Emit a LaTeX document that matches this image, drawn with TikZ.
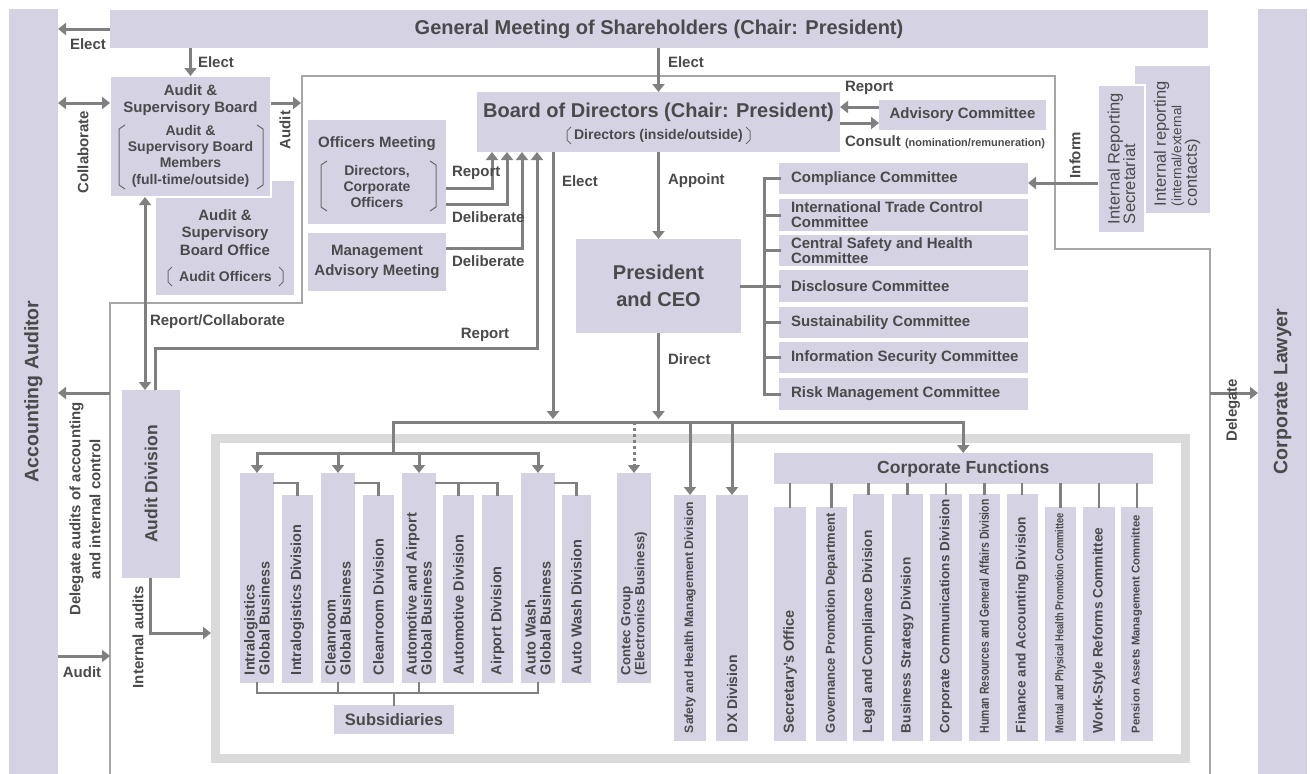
\documentclass[tikz,border=0pt]{standalone}
\usepackage{fontspec}
\setmainfont{Liberation Sans}
\usetikzlibrary{arrows.meta}
\definecolor{boxc}{HTML}{D5D2E4}
\definecolor{txt}{HTML}{4A4A4A}
\definecolor{arr}{HTML}{808080}
\definecolor{frm}{HTML}{A6A6A6}
\definecolor{bigf}{HTML}{DADADA}
\newcommand{\fs}[2]{\fontsize{#1}{#2}\selectfont\bfseries}
\newcommand{\fr}[2]{\fontsize{#1}{#2}\selectfont\mdseries}
\newcommand{\bx}[7][]{\node[bx,minimum width={(#5-#3)*1pt},minimum height={(#6-#4)*1pt},#1] (#2) at ({(#3+#5)/2},{(#4+#6)/2}) {#7};}
\newcommand{\vt}[5][]{\node[lb,rotate=90,anchor=west,align=left,font=\fs{#3}{#4},#1] (#2-t) at ([yshift=8pt]#2.south) {#5};}
\newcommand{\brk}[4]{\draw[brk] ({#1+#4},#2) -- (#1,{#2+4}) -- (#1,{#3-4}) -- ({#1+#4},#3);}
\tikzset{
 bx/.style={fill=boxc,inner sep=0pt,outer sep=0pt,text=txt,align=center,font=\fs{15}{17}},
 wb/.style={draw=white,line width=1.5pt},
 lb/.style={text=txt,inner sep=0pt,outer sep=0pt,font=\fs{15}{17}},
 ar/.style={draw=arr,line width=3pt,-{Triangle[width=12pt,length=8pt]}},
 ar2/.style={draw=arr,line width=3pt,{Triangle[width=12pt,length=8pt]}-{Triangle[width=12pt,length=8pt]}},
 ln/.style={draw=arr,line width=3pt,line cap=rect},
 ln2/.style={draw=arr,line width=2.5pt,line cap=rect},
 brk/.style={draw=txt!80,line width=1pt},
}
\begin{document}
\begin{tikzpicture}[x=1pt,y=-1pt]
\useasboundingbox (0,0) rectangle (1310,774);
% frames
\draw[frm,line width=1.2pt] (110,774) -- (110,303) -- (302,303) -- (302,76) -- (1055,76) -- (1055,249) -- (1210,249) -- (1210,774);
\draw[bigf,line width=9pt] (215.5,438) rectangle (1185,758.5);
% side bars
\bx{aa}{9}{9}{58}{774}{}
\node[lb,rotate=90,font=\fs{19.5}{20}] (aat) at (aa.center) {Accounting Auditor};
\bx{cl}{1258}{9}{1307}{774}{}
\node[lb,rotate=90,font=\fs{19.5}{20}] (clt) at (cl.center) {Corporate Lawyer};
\bx[font=\fs{20}{20}]{gm}{110}{10}{1208}{48}{General Meeting of Shareholders (Chair: President)}
% audit boards
\bx{abo}{156}{181}{294}{295}{}
\bx[wb]{ab}{110}{76}{271}{197}{}
\node[lb,align=center,font=\fs{15}{17}] (abt) at (190.5,100.5) {Audit \&\\Supervisory Board};
\node[lb,align=center,font=\fs{14}{16.3}] (abm) at (190.5,156) {Audit \&\\Supervisory Board\\Members\\(full-time/outside)};
\brk{119}{125}{189}{6}
\brk{263}{125}{189}{-6}
\node[lb,align=center,font=\fs{15}{17.5}] (abot) at (225,232.5) {Audit \&\\Supervisory\\Board Office};
\node[lb,font=\fs{14}{16}] (aboo) at (225.5,276) {Audit Officers};
\brk{168}{267}{286}{4}
\brk{283}{267}{286}{-4}
% arrows around audit board
\draw[ar] (gm.west) -- (gm.west -| aa.east);
\node[lb] (le1) at (88,44) {Elect};
\draw[ar] (gm.south -| ab.north) -- (ab.north);
\node[lb,anchor=west] (le2) at (198,62) {Elect};
\coordinate (abc) at (110,103);
\draw[ar2] (abc -| aa.east) -- (abc);
\node[lb,rotate=90] (lcol) at (83,152) {Collaborate};
\coordinate (aud) at (301,103);
\draw[ar] (abc -| ab.east) -- (aud);
\node[lb,rotate=90] (laud) at (285,130) {Audit};
% audit division
\bx{ad}{122}{390}{180}{578}{}
\node[lb,rotate=90,font=\fs{17.5}{18}] (adt) at (ad.center) {Audit Division};
\coordinate (rc) at (145,300);
\draw[ar2] (ab.south -| rc) -- (ad.north -| rc);
\node[lb,anchor=west] (lrc) at (150,322) {Report/Collaborate};
\coordinate (rp1) at (155,348);
\coordinate (rp2) at (537,348);
% board of directors
\bx{bod}{477}{92}{840}{152}{}
\node[lb,font=\fs{20}{20}] (bodt) at (658.5,112) {Board of Directors (Chair: President)};
\node[lb,font=\fs{14}{16}] (bods) at (658.5,136) {Directors (inside/outside)};
\brk{567}{127}{144}{4}
\brk{750}{127}{144}{-4}
\draw[ar] (ad.north -| rp1) -- (rp1) -- (rp2) -- (bod.south -| rp2);
\node[lb] (lrp) at (485,335) {Report};
\coordinate (dl) at (110,393);
\draw[ar] (dl) -- (dl -| aa.east);
\node[lb,rotate=90,align=center,font=\fs{15}{20}] (ldl) at (85,509) {Delegate audits of accounting\\and internal control};
\coordinate (au) at (110,656);
\draw[ar] (au -| aa.east) -- (au);
\node[lb] (lau) at (82,672) {Audit};
\coordinate (ia1) at (150,633);
\coordinate (ia2) at (211,633);
\draw[ar] (ad.south -| ia1) -- (ia1) -- (ia2);
\node[lb,rotate=90] (lia) at (138,637) {Internal audits};
\draw[ar] (gm.south -| bod.north) -- (bod.north);
\node[lb,anchor=west] (le3) at (668,62) {Elect};
% advisory
\bx{adv}{879}{100}{1046}{130}{Advisory Committee}
\coordinate (rpA) at (860,107);
\coordinate (csA) at (860,123);
\draw[ar] (adv.west |- rpA) -- (bod.east |- rpA);
\draw[ar] (bod.east |- csA) -- (adv.west |- csA);
\node[lb,anchor=west] (lrA) at (845,88) {Report};
\node[lb,anchor=west] (lcA) at (845,142) {Consult {\fs{11}{12}(nomination/remuneration)}};
% officers
\bx{om}{308}{120}{446}{224}{}
\node[lb,font=\fs{15}{17}] (omt) at (377,144) {Officers Meeting};
\node[lb,align=center,font=\fs{14}{16}] (omm) at (377,186) {Directors,\\Corporate\\Officers};
\brk{321}{161}{211}{6}
\brk{436}{161}{211}{-6}
\bx[font=\fs{15}{20}]{mam}{308}{233}{446}{291}{Management\\Advisory Meeting}
\coordinate (o1) at (492,188);
\coordinate (o2) at (507,204);
\coordinate (o3) at (522,248);
\draw[ar] (om.east |- o1) -- (o1) -- (bod.south -| o1);
\draw[ar] (om.east |- o2) -- (o2) -- (bod.south -| o2);
\draw[ar] (mam.east |- o3) -- (o3) -- (bod.south -| o3);
\node[lb,anchor=west] (lo1) at (452,173) {Report};
\node[lb,anchor=west] (lo2) at (452,217) {Deliberate};
\node[lb,anchor=west] (lo3) at (452,261) {Deliberate};
% president
\bx[font=\fs{20}{27}]{pres}{576}{239}{741}{333}{President\\and CEO}
\coordinate (el) at (553,419);
\draw[ar] (bod.south -| el) -- (el);
\node[lb,anchor=west] (le4) at (562,181) {Elect};
\draw[ar] (bod.south -| pres.north) -- (pres.north);
\node[lb,anchor=west] (lap) at (668,181) {Appoint};
\coordinate (dr) at (658.5,419);
\draw[ar] (pres.south) -- (dr);
\node[lb,anchor=west] (ldr) at (668,359) {Direct};
% committees
\bx{cm1}{779}{163}{1028}{194}{}
\bx{cm2}{779}{199}{1028}{231}{}
\bx{cm3}{779}{235}{1028}{266}{}
\bx{cm4}{779}{270}{1028}{302}{}
\bx{cm5}{779}{307}{1028}{338}{}
\bx{cm6}{779}{342}{1028}{373}{}
\bx{cm7}{779}{378}{1028}{410}{}
\node[lb,anchor=west,align=left,font=\fs{15}{15}] (cm1t) at ([xshift=12pt]cm1.west) {Compliance Committee};
\node[lb,anchor=west,align=left,font=\fs{15}{15}] (cm2t) at ([xshift=12pt]cm2.west) {International Trade Control\\Committee};
\node[lb,anchor=west,align=left,font=\fs{15}{15}] (cm3t) at ([xshift=12pt]cm3.west) {Central Safety and Health\\Committee};
\node[lb,anchor=west,align=left,font=\fs{15}{15}] (cm4t) at ([xshift=12pt]cm4.west) {Disclosure Committee};
\node[lb,anchor=west,align=left,font=\fs{15}{15}] (cm5t) at ([xshift=12pt]cm5.west) {Sustainability Committee};
\node[lb,anchor=west,align=left,font=\fs{15}{15}] (cm6t) at ([xshift=12pt]cm6.west) {Information Security Committee};
\node[lb,anchor=west,align=left,font=\fs{15}{15}] (cm7t) at ([xshift=12pt]cm7.west) {Risk Management Committee};
\coordinate (cbx) at (764,300);
\draw[ln] (cm1.west) -- (cm1.west -| cbx) -- (cm7.west -| cbx) -- (cm7.west);
\draw[ln] (cm2.west) -- (cm2.west -| cbx);
\draw[ln] (cm3.west) -- (cm3.west -| cbx);
\draw[ln] (cm4.west) -- (cm4.west -| cbx);
\draw[ln] (cm5.west) -- (cm5.west -| cbx);
\draw[ln] (cm6.west) -- (cm6.west -| cbx);
\draw[ln] (pres.east) -- (pres.east -| cbx);
% internal reporting
\bx{irp}{1135}{66}{1210}{213}{}
\bx[wb]{irs}{1098}{85}{1145}{233}{}
\node[lb,rotate=90,anchor=west,align=left,font=\fr{16.5}{15.5}] (irst) at (1121.5,224) {Internal Reporting\\Secretariat};
\node[lb,rotate=90,anchor=west,align=left,font=\fr{16.5}{15.5}] (irpt) at (1177,206) {Internal reporting\\\fr{13.5}{14}(internal/external\\contacts)};
\coordinate (inf) at (1060,183);
\draw[ar] (irs.west |- inf) -- (cm1.east |- inf);
\node[lb,rotate=90] (linf) at (1075,155) {Inform};
\coordinate (dg) at (1210,393);
\draw[ar] (dg) -- (dg -| cl.west);
\node[lb,rotate=90] (ldg) at (1233,410) {Delegate};
% business units
\bx{ilgb}{240}{473}{274}{683}{}
\bx{ildv}{282}{495}{313}{683}{}
\bx{crgb}{321}{473}{355}{683}{}
\bx{crdv}{363}{495}{394}{683}{}
\bx{aagb}{402}{473}{436}{683}{}
\bx{audv}{443}{495}{474}{683}{}
\bx{apdv}{482}{495}{513}{683}{}
\bx{awgb}{521}{473}{555}{683}{}
\bx{awdv}{562}{495}{591}{683}{}
\bx{contec}{617}{473}{651}{683}{}
\bx{safety}{674}{495}{706}{741}{}
\bx{dx}{716}{495}{748}{741}{}
\bx[font=\fs{16.5}{17}]{subs}{334}{705}{454}{734}{Subsidiaries}
\vt{ilgb}{14.5}{15}{Intralogistics\\Global Business}
\vt{ildv}{14.5}{15}{Intralogistics Division}
\vt{crgb}{14.5}{15}{Cleanroom\\Global Business}
\vt{crdv}{14.5}{15}{Cleanroom Division}
\vt{aagb}{14.5}{15}{Automotive and Airport\\Global Business}
\vt{audv}{14.5}{15}{Automotive Division}
\vt{apdv}{14.5}{15}{Airport Division}
\vt{awgb}{14.5}{15}{Auto Wash\\Global Business}
\vt{awdv}{14.5}{15}{Auto Wash Division}
\vt{contec}{13.3}{14}{Contec Group\\(Electronics Business)}
\vt{safety}{12.2}{13}{Safety and Health Management Division}
\vt{dx}{14}{15}{DX Division}
% corporate functions
\bx[font=\fs{17.5}{18}]{cf}{774}{453}{1152.5}{484}{Corporate Functions}
\bx{sec}{774}{507}{806}{741}{}
\bx{gov}{816}{507}{847}{741}{}
\bx{leg}{853}{494}{884}{741}{}
\bx{bus}{891.5}{494}{923}{741}{}
\bx{cc}{930}{494}{962}{741}{}
\bx{hr}{968.5}{494}{1000}{741}{}
\bx{fin}{1006.5}{494}{1037.5}{741}{}
\bx{men}{1045}{507}{1076}{741}{}
\bx{wsr}{1083}{507}{1115}{741}{}
\bx{pen}{1121}{507}{1152.5}{741}{}
\vt{sec}{14.5}{15}{Secretary’s Office}
\vt{gov}{13}{14}{Governance Promotion Department}
\vt{leg}{13.7}{14}{Legal and Compliance Division}
\vt{bus}{13.6}{14}{Business Strategy Division}
\vt{cc}{13.5}{14}{Corporate Communications Division}
\vt{hr}{13}{14}{\scalebox{0.8}[1]{Human Resources and General Affairs Division}}
\vt{fin}{13.7}{14}{Finance and Accounting Division}
\vt{men}{11.5}{12}{\scalebox{0.81}[1]{Mental and Physical Health Promotion Committee}}
\vt{wsr}{13.7}{14}{Work-Style Reforms Committee}
\vt{pen}{11.3}{12}{Pension Assets Management Committee}
% distribution lines
\coordinate (h1) at (393,422);
\coordinate (h3) at (393,453);
\draw[ln] (h1 -| cf.north) -- (h1) -- (h3);
\draw[ln] (h3 -| ilgb.north) -- (h3 -| awgb.north);
\draw[ar] (h3 -| ilgb.north) -- (ilgb.north);
\draw[ar] (h3 -| crgb.north) -- (crgb.north);
\draw[ar] (h3 -| aagb.north) -- (aagb.north);
\draw[ar] (h3 -| awgb.north) -- (awgb.north);
\draw[ar,dash pattern=on 3pt off 3pt] (h1 -| contec.north) -- (contec.north);
\draw[ar] (h1 -| safety.north) -- (safety.north);
\draw[ar] (h1 -| dx.north) -- (dx.north);
\draw[ar] (h1 -| cf.north) -- (cf.north);
% GB to divisions
\coordinate (g) at (300,483);
\draw[ln2] (ilgb.east |- g) -- (g -| ildv.north) -- (ildv.north);
\draw[ln2] (crgb.east |- g) -- (g -| crdv.north) -- (crdv.north);
\draw[ln2] (aagb.east |- g) -- (g -| apdv.north) -- (apdv.north);
\draw[ln2] (g -| audv.north) -- (audv.north);
\draw[ln2] (awgb.east |- g) -- (g -| awdv.north) -- (awdv.north);
% subsidiaries
\coordinate (s) at (300,693);
\draw[ln2] (ilgb.south) -- (ilgb.south |- s) -- (awgb.south |- s) -- (awgb.south);
\draw[ln2] (crgb.south) -- (crgb.south |- s);
\draw[ln2] (aagb.south) -- (aagb.south |- s);
\draw[ln2] (subs.north |- s) -- (subs.north);
% corporate function links
\foreach \n in {sec,gov,leg,bus,cc,hr,fin,men,wsr,pen} \draw[ln2] (cf.south -| \n.north) -- (\n.north);
\end{tikzpicture}
\end{document}
